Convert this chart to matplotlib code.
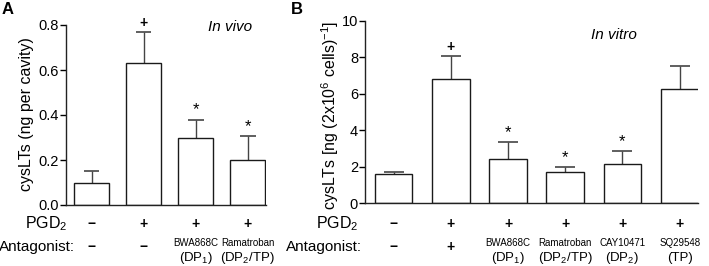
import matplotlib
matplotlib.use("Agg")
import matplotlib.pyplot as plt
from matplotlib.transforms import blended_transform_factory as btf

plt.rcParams['font.family'] = ['Liberation Sans', 'DejaVu Sans']
plt.rcParams['mathtext.fontset'] = 'custom'
plt.rcParams['mathtext.rm'] = 'Liberation Sans'
plt.rcParams['mathtext.it'] = 'Liberation Sans:italic'

# Panel A data (in vivo)
a_vals = [0.10, 0.632, 0.298, 0.20]
a_err = [0.052, 0.137, 0.082, 0.106]
a_pgd2 = ['−', '+', '+', '+']
a_ant = ['−', '−', None, None]
a_names = [None, None, 'BWA868C', 'Ramatroban']
a_targets = [None, None, '(DP$_1$)', '(DP$_2$/TP)']
a_marks = ['', '+', '*', '*']

# Panel B data (in vitro)
b_vals = [1.59, 6.82, 2.44, 1.73, 2.17, 6.28]
b_err = [0.11, 1.26, 0.93, 0.24, 0.71, 1.24]
b_pgd2 = ['−', '+', '+', '+', '+', '+']
b_ant = ['−', '+', None, None, None, None]
b_names = [None, None, 'BWA868C', 'Ramatroban', 'CAY10471', 'SQ29548']
b_targets = [None, None, '(DP$_1$)', '(DP$_2$/TP)', '(DP$_2$)', '(TP)']
b_marks = ['', '+', '*', '*', '*', '']

W, H = 709, 266
fig = plt.figure(figsize=(W / 100, H / 100), dpi=100)

def fy(py):
    return 1 - py / H

def panel(rect, vals, errs, pgd2, ant, names, targets, marks, width, xlim,
          ylim, yticks, yticklabels, ylabel, rows, lab_x, ylab_x, title, title_xy,
          letter, letter_x, capw):
    ax = fig.add_axes(rect)
    x = list(range(len(vals)))
    tops = [v + e for v, e in zip(vals, errs)]
    ax.bar(x, vals, width=width, color='white', edgecolor='#1a1a1a', linewidth=1.0, zorder=2)
    ax.vlines(x, vals, tops, colors='#444444', linewidth=1.0, zorder=1)
    ax.hlines(tops, [xi - capw / 2 for xi in x], [xi + capw / 2 for xi in x],
              colors='#444444', linewidth=1.2, zorder=1)
    for xi, t, m in zip(x, tops, marks):
        if m:
            ax.annotate(m, (xi, t), xytext=(0, 1.5), textcoords='offset points',
                        ha='center', va='bottom', fontsize=10 if m == '+' else 12,
                        fontweight='bold' if m == '+' else 'normal')
    ax.set_xlim(*xlim)
    ax.set_ylim(*ylim)
    ax.set_yticks(yticks)
    ax.set_yticklabels(yticklabels)
    ax.set_xticks([])
    for s in ['top', 'right']:
        ax.spines[s].set_visible(False)
    for s in ['left', 'bottom']:
        ax.spines[s].set_linewidth(1.0)
        ax.spines[s].set_color('#222222')
    ax.tick_params(axis='y', direction='out', length=4, width=1.0, labelsize=10.5, pad=1)
    fig.text(ylab_x / W, fy(rows['ylab']), ylabel, rotation=90, ha='center', va='center',
             fontsize=11.5)
    tr = btf(ax.transData, fig.transFigure)
    for xi, p in zip(x, pgd2):
        fig.text(xi, fy(rows['pgd']), p, transform=tr, ha='center', va='center',
                 fontsize=10, fontweight='bold')
    for xi, a, n, t in zip(x, ant, names, targets):
        if a is not None:
            fig.text(xi, fy(rows['ant']), a, transform=tr, ha='center', va='center',
                     fontsize=10, fontweight='bold')
        else:
            fig.text(xi, fy(rows['name']), n, transform=tr, ha='center', va='center', fontsize=7)
            fig.text(xi, fy(rows['target']), t, transform=tr, ha='center', va='center', fontsize=9.5)
    fig.text(lab_x[0] / W, fy(rows['pgd']), 'PGD$_2$', ha='right', va='center', fontsize=11.5)
    fig.text(lab_x[1] / W, fy(rows['ant']), 'Antagonist:', ha='right', va='center', fontsize=11)
    fig.text(title_xy[0] / W, fy(title_xy[1]), title, ha='center', va='center',
             fontsize=11, style='italic')
    fig.text(letter_x / W, fy(9), letter, ha='left', va='center', fontsize=12, fontweight='bold')
    return ax

panel([66 / W, 61 / H, 200 / W, 180 / H], a_vals, a_err, a_pgd2, a_ant, a_names, a_targets,
      a_marks, 0.67, (-0.49, 3.35), (0, 0.8), [0, 0.2, 0.4, 0.6, 0.8],
      ['0.0', '0.2', '0.4', '0.6', '0.8'], 'cysLTs (ng per cavity)',
      dict(pgd=224, ant=247, name=243, target=258, ylab=114), (67, 75), 26, 'In vivo',
      (230, 27), 'A', 2, 0.3)

panel([365 / W, 62.7 / H, 333 / W, 182.6 / H], b_vals, b_err, b_pgd2, b_ant, b_names, b_targets,
      b_marks, 0.66, (-0.50, 5.32), (0, 10), [0, 2, 4, 6, 8, 10],
      ['0', '2', '4', '6', '8', '10'], 'cysLTs [ng (2x10$^6$ cells)$^{-1}$]',
      dict(pgd=224, ant=247, name=243, target=258, ylab=115), (358, 362), 330, 'In vitro',
      (614, 35), 'B', 291, 0.35)

fig.savefig('out.png', dpi=100)
